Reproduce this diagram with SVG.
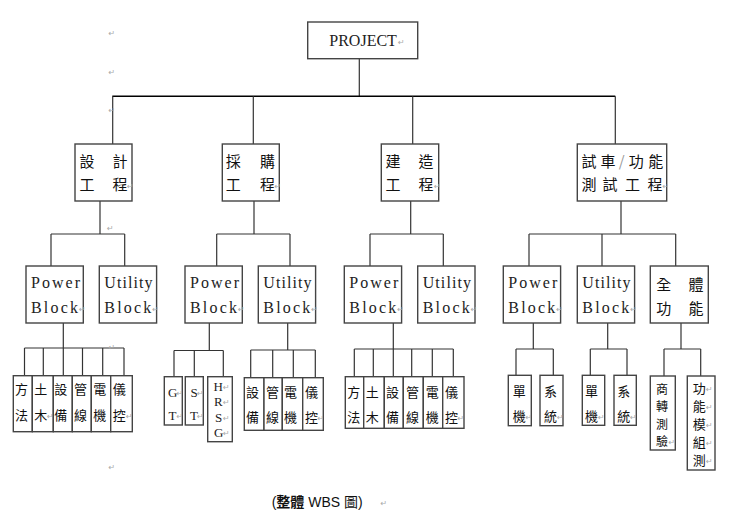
<svg xmlns="http://www.w3.org/2000/svg" width="731" height="516" viewBox="0 0 731 516">
<style>
.bx{fill:#fff;stroke:#444;stroke-width:1.4}
.cn line{stroke:#333;stroke-width:1.2}
.cj{font-family:"Noto Sans CJK TC","Noto Sans CJK SC",sans-serif;font-size:15px;fill:#111}
.lf{font-family:"Noto Sans CJK TC","Noto Sans CJK SC",sans-serif;font-size:13px;fill:#111}
.sf{font-family:"Liberation Serif","Times New Roman",serif;font-size:16px;fill:#222}
.sl{font-family:"Liberation Serif","Times New Roman",serif;font-size:13px;fill:#222}
.pm{font-family:"DejaVu Sans",sans-serif;font-size:8px;fill:#aaa}
.cap{font-family:"Liberation Sans","Noto Sans CJK TC",sans-serif;font-size:14px;fill:#111}
</style>
<rect width="731" height="516" fill="#fff"/>

<g id="connectors" class="cn">
<line x1="359.3" y1="58.7" x2="359.3" y2="96.3"/>
<line x1="112.3" y1="96.3" x2="615.3" y2="96.3" style="stroke:#000;stroke-width:1.5"/>
<line x1="112.7" y1="96.3" x2="112.7" y2="144"/>
<line x1="253.3" y1="96.3" x2="253.3" y2="144"/>
<line x1="412.7" y1="96.3" x2="412.7" y2="144"/>
<line x1="615.3" y1="96.3" x2="615.3" y2="144"/>
<line x1="100" y1="201" x2="100" y2="234"/>
<line x1="51" y1="234" x2="124.7" y2="234"/>
<line x1="51" y1="234" x2="51" y2="266"/>
<line x1="124.7" y1="234" x2="124.7" y2="266"/>
<line x1="254" y1="201" x2="254" y2="234"/>
<line x1="216.7" y1="234" x2="290" y2="234"/>
<line x1="216.7" y1="234" x2="216.7" y2="266"/>
<line x1="290" y1="234" x2="290" y2="266"/>
<line x1="410.7" y1="201" x2="410.7" y2="234"/>
<line x1="370" y1="234" x2="443.3" y2="234"/>
<line x1="370" y1="234" x2="370" y2="266"/>
<line x1="443.3" y1="234" x2="443.3" y2="266"/>
<line x1="621" y1="201" x2="621" y2="234"/>
<line x1="529" y1="234" x2="675.7" y2="234"/>
<line x1="529" y1="234" x2="529" y2="266"/>
<line x1="602" y1="234" x2="602" y2="266"/>
<line x1="675.7" y1="234" x2="675.7" y2="266"/>
<line x1="63.3" y1="323" x2="63.3" y2="348"/>
<line x1="24.5" y1="348" x2="124" y2="348"/>
<line x1="24.5" y1="348" x2="24.5" y2="376"/>
<line x1="43.3" y1="348" x2="43.3" y2="376"/>
<line x1="63.3" y1="348" x2="63.3" y2="376"/>
<line x1="82.5" y1="348" x2="82.5" y2="376"/>
<line x1="102.7" y1="348" x2="102.7" y2="376"/>
<line x1="124" y1="348" x2="124" y2="376"/>
<line x1="209.3" y1="323" x2="209.3" y2="350.5"/>
<line x1="174" y1="350.5" x2="223.3" y2="350.5"/>
<line x1="174" y1="350.5" x2="174" y2="376.7"/>
<line x1="194.3" y1="350.5" x2="194.3" y2="376.7"/>
<line x1="223.3" y1="350.5" x2="223.3" y2="376.7"/>
<line x1="287.7" y1="323" x2="287.7" y2="350"/>
<line x1="250.7" y1="350" x2="315.3" y2="350"/>
<line x1="250.7" y1="350" x2="250.7" y2="377.7"/>
<line x1="272.7" y1="350" x2="272.7" y2="377.7"/>
<line x1="293.3" y1="350" x2="293.3" y2="377.7"/>
<line x1="315.3" y1="350" x2="315.3" y2="377.7"/>
<line x1="393.3" y1="323" x2="393.3" y2="349"/>
<line x1="354.3" y1="349" x2="453.3" y2="349"/>
<line x1="354.3" y1="349" x2="354.3" y2="376.7"/>
<line x1="373.3" y1="349" x2="373.3" y2="376.7"/>
<line x1="393.3" y1="349" x2="393.3" y2="376.7"/>
<line x1="411.7" y1="349" x2="411.7" y2="376.7"/>
<line x1="432.3" y1="349" x2="432.3" y2="376.7"/>
<line x1="453.3" y1="349" x2="453.3" y2="376.7"/>
<line x1="533.3" y1="323" x2="533.3" y2="349"/>
<line x1="516" y1="349" x2="553.3" y2="349"/>
<line x1="516" y1="349" x2="516" y2="375.3"/>
<line x1="553.3" y1="349" x2="553.3" y2="375.3"/>
<line x1="607.7" y1="323" x2="607.7" y2="349"/>
<line x1="590.3" y1="349" x2="627" y2="349"/>
<line x1="590.3" y1="349" x2="590.3" y2="375.3"/>
<line x1="627" y1="349" x2="627" y2="375.3"/>
<line x1="681" y1="323" x2="681" y2="349"/>
<line x1="664" y1="349" x2="700.7" y2="349"/>
<line x1="664" y1="349" x2="664" y2="376"/>
<line x1="700.7" y1="349" x2="700.7" y2="376"/>
</g>

<g id="marks" class="pm">
<text x="108.5" y="36">↵</text>
<text x="108.5" y="75">↵</text>
<text x="108.5" y="113">↵</text>
<text x="107" y="231">↵</text>
<text x="108.5" y="350">↵</text>
<text x="108.5" y="470">↵</text>
</g>

<g id="project">
<rect class="bx" x="307.7" y="22" width="110" height="36.7"/>
<text class="sf" x="329.3" y="46">PROJECT</text>
<text class="pm" x="398" y="45">↵</text>
</g>

<g id="design">
<rect class="bx" x="75" y="144" width="57" height="57"/>
<text class="cj" x="87" y="167" text-anchor="middle">設</text>
<text class="cj" x="120" y="167" text-anchor="middle">計</text>
<text class="cj" x="87" y="190.4" text-anchor="middle">工</text>
<text class="cj" x="120" y="190.4" text-anchor="middle">程</text>
<text class="pm" x="127" y="189">↵</text>
</g>
<g id="procure">
<rect class="bx" x="222.3" y="144" width="57" height="57"/>
<text class="cj" x="233.3" y="167" text-anchor="middle">採</text>
<text class="cj" x="267.5" y="167" text-anchor="middle">購</text>
<text class="cj" x="233.3" y="190.4" text-anchor="middle">工</text>
<text class="cj" x="267.5" y="190.4" text-anchor="middle">程</text>
<text class="pm" x="274.5" y="189">↵</text>
</g>
<g id="construct">
<rect class="bx" x="381.3" y="144" width="57.4" height="57"/>
<text class="cj" x="393" y="167" text-anchor="middle">建</text>
<text class="cj" x="426" y="167" text-anchor="middle">造</text>
<text class="cj" x="393" y="190.4" text-anchor="middle">工</text>
<text class="cj" x="426" y="190.4" text-anchor="middle">程</text>
<text class="pm" x="434" y="189">↵</text>
</g>
<g id="commission">
<rect class="bx" x="577.3" y="144" width="89.4" height="57"/>
<text class="cj" x="589" y="167" text-anchor="middle">試</text>
<text class="cj" x="608" y="167" text-anchor="middle">車</text>
<text class="cj" x="621.7" y="167" text-anchor="middle" style="fill:#999">/</text>
<text class="cj" x="636.3" y="167" text-anchor="middle">功</text>
<text class="cj" x="655.8" y="167" text-anchor="middle">能</text>
<text class="cj" x="589" y="190.4" text-anchor="middle">測</text>
<text class="cj" x="610" y="190.4" text-anchor="middle">試</text>
<text class="cj" x="632.5" y="190.4" text-anchor="middle">工</text>
<text class="cj" x="655" y="190.4" text-anchor="middle">程</text>
<text class="pm" x="662.5" y="189">↵</text>
</g>

<g id="design-power">
<rect class="bx" x="26" y="266" width="57.3" height="57"/>
<text class="sf" x="31" y="288.3" textLength="49" lengthAdjust="spacing">Power</text>
<text class="sf" x="31" y="313.3" textLength="47" lengthAdjust="spacing">Block</text>
<text class="pm" x="79" y="312">↵</text>
</g>
<g id="design-utility">
<rect class="bx" x="99.3" y="266" width="57.3" height="57"/>
<text class="sf" x="104.3" y="288.3" textLength="48.3" lengthAdjust="spacing">Utility</text>
<text class="sf" x="104.3" y="313.3" textLength="47" lengthAdjust="spacing">Block</text>
<text class="pm" x="152.3" y="312">↵</text>
</g>
<g id="procure-power">
<rect class="bx" x="185" y="266" width="57.3" height="57"/>
<text class="sf" x="190" y="288.3" textLength="49" lengthAdjust="spacing">Power</text>
<text class="sf" x="190" y="313.3" textLength="47" lengthAdjust="spacing">Block</text>
<text class="pm" x="238" y="312">↵</text>
</g>
<g id="procure-utility">
<rect class="bx" x="258.3" y="266" width="57.3" height="57"/>
<text class="sf" x="263.3" y="288.3" textLength="48.3" lengthAdjust="spacing">Utility</text>
<text class="sf" x="263.3" y="313.3" textLength="47" lengthAdjust="spacing">Block</text>
<text class="pm" x="311.3" y="312">↵</text>
</g>
<g id="construct-power">
<rect class="bx" x="344.3" y="266" width="57.3" height="57"/>
<text class="sf" x="349.3" y="288.3" textLength="49" lengthAdjust="spacing">Power</text>
<text class="sf" x="349.3" y="313.3" textLength="47" lengthAdjust="spacing">Block</text>
<text class="pm" x="397.3" y="312">↵</text>
</g>
<g id="construct-utility">
<rect class="bx" x="417.7" y="266" width="57.3" height="57"/>
<text class="sf" x="422.7" y="288.3" textLength="48.3" lengthAdjust="spacing">Utility</text>
<text class="sf" x="422.7" y="313.3" textLength="47" lengthAdjust="spacing">Block</text>
<text class="pm" x="470.7" y="312">↵</text>
</g>
<g id="commission-power">
<rect class="bx" x="503.3" y="266" width="57.3" height="57"/>
<text class="sf" x="508.3" y="288.3" textLength="49" lengthAdjust="spacing">Power</text>
<text class="sf" x="508.3" y="313.3" textLength="47" lengthAdjust="spacing">Block</text>
<text class="pm" x="556.3" y="312">↵</text>
</g>
<g id="commission-utility">
<rect class="bx" x="577.3" y="266" width="57.3" height="57"/>
<text class="sf" x="582.3" y="288.3" textLength="48.3" lengthAdjust="spacing">Utility</text>
<text class="sf" x="582.3" y="313.3" textLength="47" lengthAdjust="spacing">Block</text>
<text class="pm" x="630.3" y="312">↵</text>
</g>
<g id="commission-full">
<rect class="bx" x="650.3" y="266" width="58" height="57"/>
<text class="cj" x="663.7" y="290" text-anchor="middle">全</text>
<text class="cj" x="696" y="290" text-anchor="middle">體</text>
<text class="cj" x="663.7" y="313.5" text-anchor="middle">功</text>
<text class="cj" x="696" y="313.5" text-anchor="middle">能</text>
</g>

<g id="d-method"><rect class="bx" x="13.3" y="375.7" width="19" height="56"/><text class="lf" x="15" y="394">方</text><text class="lf" x="15" y="420">法</text></g>
<g id="d-civil"><rect class="bx" x="32.3" y="375.7" width="21" height="56"/><text class="lf" x="34.3" y="394">土</text><text class="lf" x="34.3" y="420">木</text><text class="pm" x="47" y="419">↵</text></g>
<g id="d-equip"><rect class="bx" x="53.3" y="375.7" width="19" height="56"/><text class="lf" x="54.3" y="394">設</text><text class="lf" x="54.3" y="420">備</text></g>
<g id="d-pipe"><rect class="bx" x="72.3" y="375.7" width="19" height="56"/><text class="lf" x="74" y="394">管</text><text class="lf" x="74" y="420">線</text></g>
<g id="d-elec"><rect class="bx" x="91.3" y="375.7" width="19.4" height="56"/><text class="lf" x="93.3" y="394">電</text><text class="lf" x="93.3" y="420">機</text></g>
<g id="d-inst"><rect class="bx" x="110.7" y="375.7" width="21.6" height="56"/><text class="lf" x="112.7" y="394">儀</text><text class="lf" x="112.7" y="420">控</text><text class="pm" x="126" y="419">↵</text></g>

<g id="p-gt"><rect class="bx" x="164.3" y="376.7" width="18" height="48.3"/><text class="sl" x="168" y="397">G</text><text class="sl" x="168.5" y="420">T</text><text class="pm" x="176.5" y="396">↵</text><text class="pm" x="176.5" y="419">↵</text></g>
<g id="p-st"><rect class="bx" x="185.3" y="376.7" width="18" height="48.3"/><text class="sl" x="190.5" y="397">S</text><text class="sl" x="190" y="420">T</text><text class="pm" x="197" y="396">↵</text><text class="pm" x="197" y="419">↵</text></g>
<g id="p-hrsg"><rect class="bx" x="207.7" y="376.7" width="24.6" height="65"/>
<text class="sl"><tspan x="213.5" y="390.5">H</tspan><tspan x="214" y="406">R</tspan><tspan x="215" y="421.5">S</tspan><tspan x="214" y="437">G</tspan></text>
<text class="pm"><tspan x="223" y="389.5">↵</tspan><tspan x="223" y="405">↵</tspan><tspan x="223" y="420.5">↵</tspan><tspan x="223" y="436">↵</tspan></text></g>

<g id="pu-equip"><rect class="bx" x="244.3" y="377.7" width="19.7" height="52.6"/><text class="lf" x="246" y="397">設</text><text class="lf" x="246" y="421.5">備</text></g>
<g id="pu-pipe"><rect class="bx" x="264" y="377.7" width="18.3" height="52.6"/><text class="lf" x="266" y="397">管</text><text class="lf" x="266" y="421.5">線</text></g>
<g id="pu-elec"><rect class="bx" x="282.3" y="377.7" width="20.4" height="52.6"/><text class="lf" x="284" y="397">電</text><text class="lf" x="284" y="421.5">機</text></g>
<g id="pu-inst"><rect class="bx" x="302.7" y="377.7" width="20.6" height="52.6"/><text class="lf" x="305" y="397">儀</text><text class="lf" x="305" y="421.5">控</text><text class="pm" x="317.5" y="420.5">↵</text></g>

<g id="c-method"><rect class="bx" x="345.3" y="376.7" width="18.4" height="51.6"/><text class="lf" x="347.3" y="396.5">方</text><text class="lf" x="347.3" y="421.5">法</text></g>
<g id="c-civil"><rect class="bx" x="363.7" y="376.7" width="20.6" height="51.6"/><text class="lf" x="365.7" y="396.5">土</text><text class="lf" x="365.7" y="421.5">木</text></g>
<g id="c-equip"><rect class="bx" x="384.3" y="376.7" width="19" height="51.6"/><text class="lf" x="386" y="396.5">設</text><text class="lf" x="386" y="421.5">備</text></g>
<g id="c-pipe"><rect class="bx" x="403.3" y="376.7" width="20" height="51.6"/><text class="lf" x="406" y="396.5">管</text><text class="lf" x="406" y="421.5">線</text></g>
<g id="c-elec"><rect class="bx" x="423.3" y="376.7" width="19.4" height="51.6"/><text class="lf" x="425.7" y="396.5">電</text><text class="lf" x="425.7" y="421.5">機</text></g>
<g id="c-inst"><rect class="bx" x="442.7" y="376.7" width="21.3" height="51.6"/><text class="lf" x="445" y="396.5">儀</text><text class="lf" x="445" y="421.5">控</text><text class="pm" x="457.5" y="420.5">↵</text></g>

<g id="cp-unit"><rect class="bx" x="508.3" y="375.3" width="23" height="50.4"/><text class="lf" x="512.7" y="396">單</text><text class="lf" x="512.7" y="421">機</text><text class="pm" x="525.5" y="420">↵</text></g>
<g id="cp-sys"><rect class="bx" x="540" y="375.3" width="23" height="50.4"/><text class="lf" x="544" y="396">系</text><text class="lf" x="544" y="421">統</text><text class="pm" x="557" y="420">↵</text></g>
<g id="cu-unit"><rect class="bx" x="582.3" y="375.3" width="22.4" height="50"/><text class="lf" x="585" y="396">單</text><text class="lf" x="585" y="421">機</text><text class="pm" x="598" y="420">↵</text></g>
<g id="cu-sys"><rect class="bx" x="614" y="375.3" width="22.3" height="50"/><text class="lf" x="617.3" y="396">系</text><text class="lf" x="617.3" y="421">統</text><text class="pm" x="630" y="420">↵</text></g>
<g id="cf-comm"><rect class="bx" x="650.3" y="376" width="25" height="74"/>
<text class="lf" style="font-size:12px"><tspan x="656" y="393.5">商</tspan><tspan x="656" y="411">轉</tspan><tspan x="656" y="428.5">測</tspan><tspan x="656" y="446">驗</tspan></text>
<text class="pm" x="668.5" y="445">↵</text></g>
<g id="cf-func"><rect class="bx" x="687.3" y="376" width="27.7" height="94"/>
<text class="lf"><tspan x="692.7" y="392.5">功</tspan><tspan x="692.7" y="410.5">能</tspan><tspan x="692.7" y="428.5">模</tspan><tspan x="692.7" y="446.5">組</tspan><tspan x="692.7" y="464.5">測</tspan></text>
<text class="pm"><tspan x="706" y="391.5">↵</tspan><tspan x="706" y="409.5">↵</tspan><tspan x="706" y="427.5">↵</tspan><tspan x="706" y="445.5">↵</tspan><tspan x="706" y="463.5">↵</tspan></text></g>

<g id="caption">
<text class="cap" x="271.7" y="507">(<tspan font-weight="bold">整體</tspan> WBS 圖)</text>
<text class="pm" x="380.5" y="506">↵</text>
</g>
</svg>
